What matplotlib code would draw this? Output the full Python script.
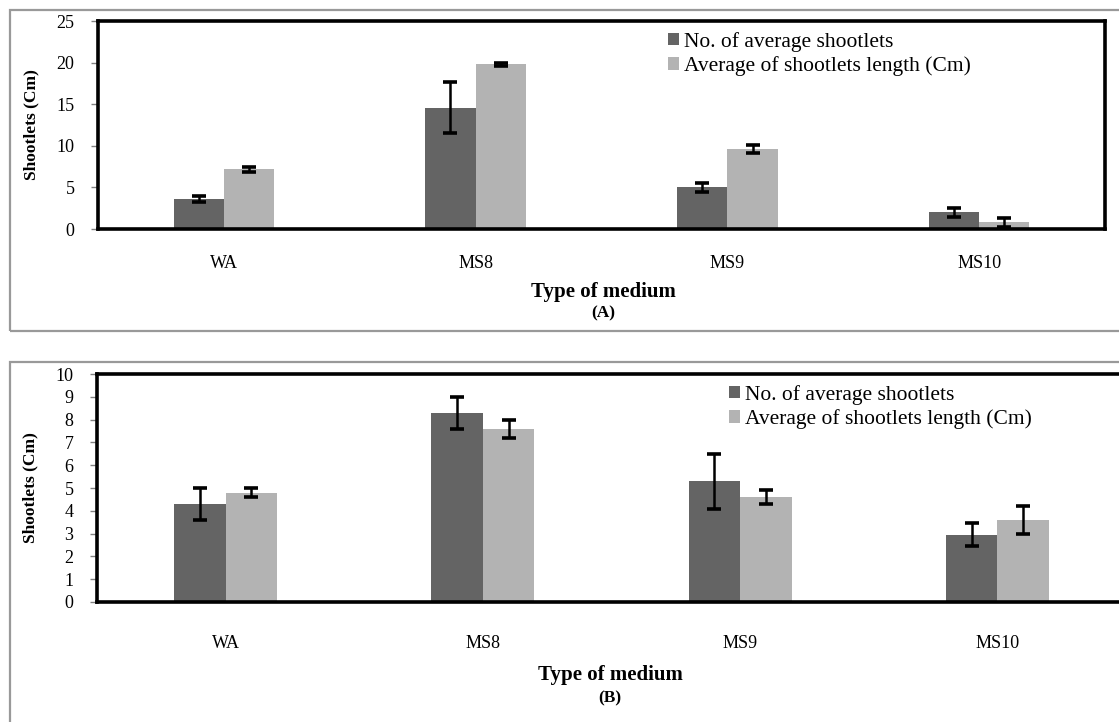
import numpy as np
import matplotlib
matplotlib.use("Agg")
import matplotlib.pyplot as plt
from matplotlib.patches import Rectangle

plt.rcParams['font.family'] = ['Liberation Serif', 'DejaVu Serif']

# ---- data ----
media = ['WA', 'MS8', 'MS9', 'MS10']
series_names = ['No. of average shootlets', 'Average of shootlets length (Cm)']

a_count = [3.6, 14.6, 5.0, 2.0]
a_count_err = [0.4, 3.1, 0.5, 0.5]
a_length = [7.2, 19.8, 9.6, 0.8]
a_length_err = [0.3, 0.2, 0.5, 0.5]

b_count = [4.3, 8.3, 5.3, 2.95]
b_count_err = [0.7, 0.7, 1.2, 0.5]
b_length = [4.8, 7.6, 4.6, 3.6]
b_length_err = [0.2, 0.4, 0.3, 0.6]

a_ticks = [0, 5, 10, 15, 20, 25]
b_ticks = list(range(0, 11))

dark = '#646464'
light = '#b3b3b3'
W, H = 1119, 722

fig = plt.figure(figsize=(W / 100, H / 100), dpi=100)


def px_axes(left, top, right, bottom):
    # pixel box -> figure axes
    return fig.add_axes([left / W, 1 - bottom / H, (right - left) / W, (bottom - top) / H])


def panel(ax, count, count_err, length, length_err, ticks, xpad, leg_xy):
    x = np.arange(len(media))
    w = 0.2
    ekw = dict(ecolor='black', elinewidth=1.8, capsize=5, capthick=2.6)
    ax.bar(x - w / 2, count, w, color=dark, yerr=count_err, error_kw=ekw,
           label=series_names[0], zorder=2)
    ax.bar(x + w / 2, length, w, color=light, yerr=length_err, error_kw=ekw,
           label=series_names[1], zorder=2)
    ax.set_xlim(-0.5, 3.5)
    ax.set_ylim(0, ticks[-1])
    ax.set_yticks(ticks)
    ax.set_xticks(x)
    ax.set_xticklabels(media, fontsize=13)
    ax.tick_params(axis='x', length=0, pad=xpad)
    ax.tick_params(axis='y', length=5, width=1, color='#808080', labelsize=13, pad=12)
    for s in ax.spines.values():
        s.set_linewidth(2.6)
        s.set_color('black')
    ax.set_ylabel('Shootlets (Cm)', fontsize=12.5, fontweight='bold', labelpad=12)
    ax.legend(loc='upper left', bbox_to_anchor=(leg_xy[0] / W, 1 - leg_xy[1] / H),
              bbox_transform=fig.transFigure, frameon=False, fontsize=15.5,
              handlelength=0.5, handleheight=0.5, handletextpad=0.25,
              labelspacing=0.2, borderpad=0, borderaxespad=0)


# outer gray frames
fig.patches.append(Rectangle((10 / W, 1 - 331 / H), 1.2, 321 / H, transform=fig.transFigure,
                             fill=False, edgecolor='#999999', linewidth=1.6))
fig.patches.append(Rectangle((10 / W, -0.1), 1.2, 1 - 362 / H + 0.1, transform=fig.transFigure,
                             fill=False, edgecolor='#999999', linewidth=1.6))

ax1 = px_axes(98, 21, 1105, 229)
panel(ax1, a_count, a_count_err, a_length, a_length_err, a_ticks, 19, (668, 32))
fig.text(603 / W, 1 - 292 / H, 'Type of medium', ha='center', va='center',
         fontsize=15, fontweight='bold')
fig.text(603 / W, 1 - 313 / H, '(A)', ha='center', va='center',
         fontsize=12.5, fontweight='bold')

ax2 = px_axes(97, 374, 1126, 602)
panel(ax2, b_count, b_count_err, b_length, b_length_err, b_ticks, 24, (729, 385))
fig.text(610 / W, 1 - 675 / H, 'Type of medium', ha='center', va='center',
         fontsize=15, fontweight='bold')
fig.text(610 / W, 1 - 698 / H, '(B)', ha='center', va='center',
         fontsize=12.5, fontweight='bold')

fig.savefig('out.png', dpi=100)
